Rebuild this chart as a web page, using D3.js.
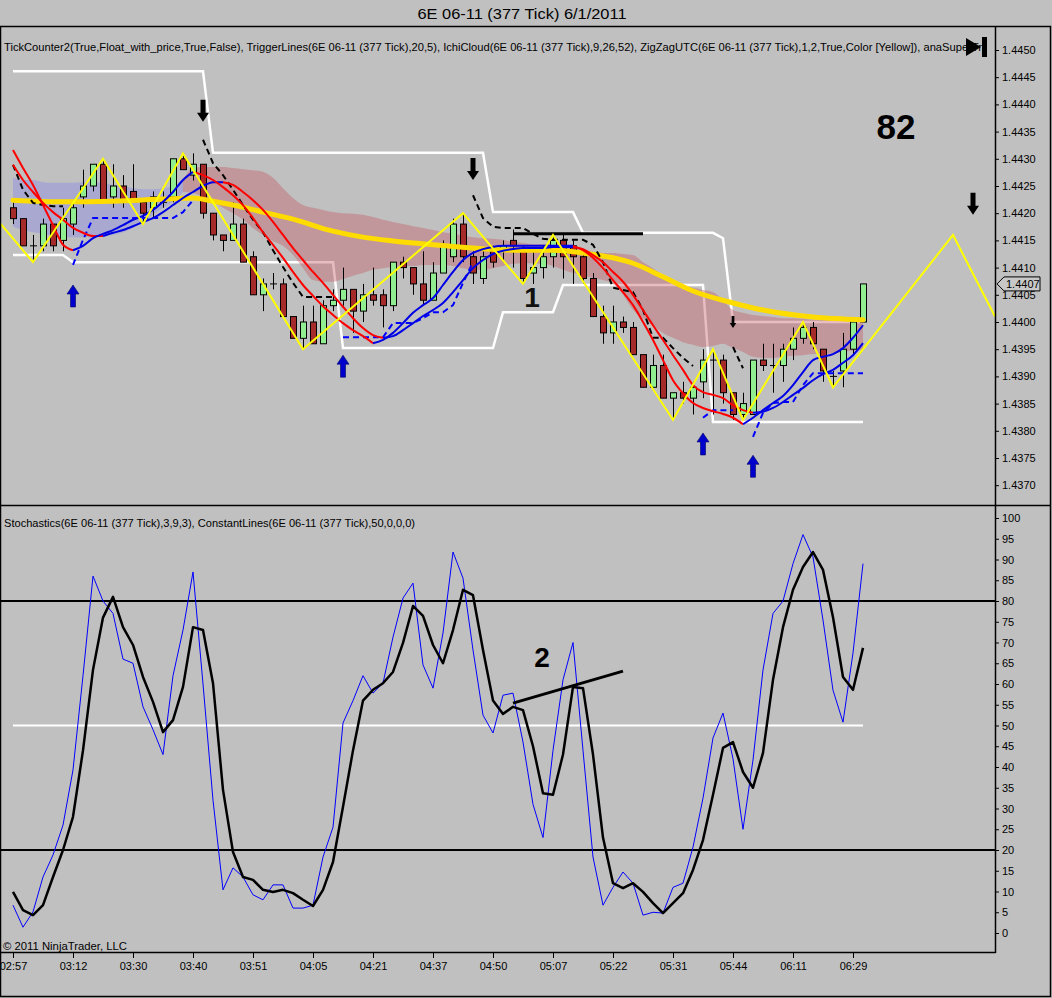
<!DOCTYPE html>
<html>
<head>
<meta charset="utf-8">
<script src="https://d3js.org/d3.v7.min.js"></script>
<style>
body{margin:0;background:#c0c0c0;}
text{font-family:"Liberation Sans",Arial,sans-serif;}
</style>
</head>
<body>
<script>
// ---- data ----
var timeLabels=["02:57","03:12","03:30","03:40","03:51","04:05","04:21","04:37","04:50","05:07","05:22","05:31","05:44","06:11","06:29"];
var labelBars=[0,6,12,18,24,30,36,42,48,54,60,66,72,78,84];
var priceTicks=[1.4370,1.4375,1.4380,1.4385,1.4390,1.4395,1.4400,1.4405,1.4410,1.4415,1.4420,1.4425,1.4430,1.4435,1.4440,1.4445,1.4450];
var stochTicks=[0,5,10,15,20,25,30,35,40,45,50,55,60,65,70,75,80,85,90,95,100];

var opens=[1.4421,1.4419,1.4414,1.4414,1.4418,1.4415,1.4418,1.4423,1.4425,1.4429,
1.4423,1.4425,1.4424,1.4422,1.4421,1.4422,1.4423,1.4430,1.4427,1.4429,
1.4420,1.4416,1.4415,1.4418,1.4412,1.4405,1.4407,1.4407,1.4401,1.4397,
1.4400,1.4396,1.4403,1.4404,1.4406,1.4402,1.4405,1.4405,1.4403,1.4411,
1.4410,1.4407,1.4404,1.4409,1.4412,1.4418,1.4412,1.4408,1.4413,1.4413,
1.4415,1.4413,1.4409,1.4410,1.4412,1.4415,1.4414,1.4412,1.4408,1.4401,
1.4398,1.4400,1.4399,1.4394,1.4388,1.4392,1.4386,1.4387,1.4386,1.4389,
1.4393,1.4393,1.4387,1.4383,1.4383,1.4393,1.4392,1.4392,1.4395,1.4397,
1.4399,1.4395,1.4390,1.4391,1.4395,1.4400];
var highs=[1.4422,1.4419,1.4416,1.4419,1.4418,1.4421,1.4422,1.4428,1.4429,1.4430,
1.4429,1.4427,1.4429,1.4422,1.4424,1.4424,1.4430,1.4431,1.4431,1.4429,
1.4420,1.4416,1.4422,1.4419,1.4413,1.4408,1.4409,1.4408,1.4401,1.4403,
1.4403,1.4404,1.4406,1.4410,1.4406,1.4407,1.4410,1.4406,1.4411,1.4412,
1.4410,1.4413,1.4411,1.4415,1.4419,1.4420,1.4413,1.4413,1.4414,1.4415,
1.4417,1.4414,1.4413,1.4414,1.4416,1.4416,1.4415,1.4413,1.4409,1.4403,
1.4403,1.4401,1.4400,1.4394,1.4394,1.4394,1.4387,1.4389,1.4389,1.4395,
1.4395,1.4394,1.4387,1.4387,1.4393,1.4396,1.4396,1.4396,1.4399,1.4400,
1.4400,1.4395,1.4391,1.4398,1.4400,1.4407];
var lows=[1.4418,1.4414,1.4411,1.4413,1.4413,1.4413,1.4416,1.4421,1.4424,1.4422,
1.4421,1.4421,1.4422,1.4418,1.4419,1.4421,1.4422,1.4428,1.4426,1.4419,
1.4415,1.4413,1.4415,1.4411,1.4405,1.4402,1.4406,1.4401,1.4397,1.4395,
1.4396,1.4396,1.4402,1.4403,1.4398,1.4400,1.4403,1.4399,1.4402,1.4408,
1.4405,1.4403,1.4404,1.4409,1.4411,1.4411,1.4407,1.4407,1.4410,1.4411,
1.4410,1.4407,1.4407,1.4408,1.4410,1.4408,1.4407,1.4407,1.4401,1.4396,
1.4396,1.4398,1.4394,1.4388,1.4388,1.4386,1.4382,1.4385,1.4383,1.4386,
1.4383,1.4385,1.4382,1.4382,1.4383,1.4391,1.4387,1.4389,1.4393,1.4396,
1.4395,1.4389,1.4388,1.4388,1.4394,1.4400];
var closes=[1.4419,1.4414,1.4414,1.4418,1.4414,1.4419,1.4421,1.4425,1.4429,1.4422,
1.4425,1.4422,1.4422,1.4420,1.4423,1.4422,1.4430,1.4428,1.4429,1.4420,
1.4416,1.4415,1.4418,1.4411,1.4405,1.4407,1.4407,1.4401,1.4397,1.4400,
1.4396,1.4403,1.4404,1.4406,1.4402,1.4405,1.4404,1.4403,1.4411,1.4410,
1.4407,1.4404,1.4409,1.4414,1.4418,1.4412,1.4409,1.4412,1.4411,1.4414,
1.4414,1.4408,1.4410,1.4412,1.4415,1.4412,1.4412,1.4408,1.4401,1.4398,
1.4400,1.4399,1.4394,1.4388,1.4392,1.4386,1.4387,1.4386,1.4388,1.4393,
1.4393,1.4387,1.4383,1.4385,1.4393,1.4392,1.4392,1.4395,1.4397,1.4399,
1.4396,1.4391,1.4390,1.4395,1.4400,1.4407];

// trigger lines (fast / slow)
var trigFast=[1.44316,1.44283,1.44252,1.44215,1.44178,1.44142,1.44132,1.44140,1.44154,1.44162,
1.44169,1.44178,1.44188,1.44195,1.44206,1.44221,1.44239,1.44261,1.44276,1.44270,
1.44261,1.44248,1.44233,1.44215,1.44191,1.44165,1.44142,1.44118,1.44092,1.44068,
1.44048,1.44029,1.44013,1.43998,1.43985,1.43974,1.43961,1.43967,1.43980,1.43998,
1.44017,1.44031,1.44044,1.44068,1.44092,1.44114,1.44127,1.44134,1.44138,1.44140,
1.44140,1.44140,1.44140,1.44140,1.44140,1.44140,1.44140,1.44132,1.44118,1.44099,
1.44077,1.44055,1.44031,1.44000,1.43967,1.43930,1.43893,1.43869,1.43851,1.43842,
1.43836,1.43831,1.43824,1.43812,1.43824,1.43838,1.43851,1.43864,1.43884,1.43908,
1.43930,1.43936,1.43941,1.43952,1.43971,1.43994];
var trigSlow=[1.44289,1.44261,1.44239,1.44219,1.44202,1.44188,1.44173,1.44164,1.44158,1.44158,
1.44164,1.44169,1.44176,1.44184,1.44191,1.44202,1.44215,1.44228,1.44239,1.44250,
1.44257,1.44257,1.44252,1.44239,1.44224,1.44206,1.44184,1.44160,1.44136,1.44114,
1.44092,1.44072,1.44050,1.44028,1.44007,1.43989,1.43976,1.43971,1.43974,1.43985,
1.43998,1.44011,1.44022,1.44035,1.44055,1.44077,1.44099,1.44114,1.44125,1.44131,
1.44134,1.44136,1.44136,1.44136,1.44138,1.44138,1.44138,1.44134,1.44123,1.44110,
1.44092,1.44074,1.44050,1.44022,1.43994,1.43967,1.43939,1.43912,1.43884,1.43871,
1.43866,1.43860,1.43847,1.43838,1.43833,1.43835,1.43842,1.43853,1.43866,1.43879,
1.43893,1.43904,1.43912,1.43925,1.43939,1.43961];

// ichimoku cloud edges
var cloudHi=[1.44265,1.44261,1.44261,1.44257,1.44256,1.44256,1.44256,1.44257,1.44257,1.44256,
1.44252,1.44250,1.44246,1.44244,1.44244,1.44246,1.44250,1.44261,1.44283,1.44285,
1.44285,1.44285,1.44283,1.44281,1.44279,1.44276,1.44265,1.44246,1.44228,1.44215,
1.44210,1.44206,1.44202,1.44200,1.44199,1.44197,1.44193,1.44188,1.44184,1.44180,
1.44176,1.44173,1.44169,1.44165,1.44162,1.44158,1.44156,1.44154,1.44153,1.44151,
1.44147,1.44145,1.44143,1.44143,1.44143,1.44142,1.44138,1.44132,1.44129,1.44127,
1.44127,1.44125,1.44123,1.44110,1.44099,1.44086,1.44077,1.44068,1.44063,1.44059,
1.44055,1.44040,1.44022,1.44017,1.44013,1.44011,1.44009,1.44007,1.44007,1.44006,
1.44004,1.44004,1.44004,1.44004,1.44004,1.44004];
var cloudLo=[1.44175,1.44169,1.44165,1.44162,1.44158,1.44156,1.44156,1.44156,1.44156,1.44158,
1.44160,1.44165,1.44173,1.44184,1.44197,1.44210,1.44221,1.44239,1.44237,1.44230,
1.44221,1.44210,1.44200,1.44188,1.44173,1.44160,1.44149,1.44140,1.44123,1.44099,
1.44077,1.44074,1.44074,1.44079,1.44085,1.44090,1.44096,1.44099,1.44101,1.44103,
1.44103,1.44105,1.44105,1.44105,1.44103,1.44099,1.44096,1.44096,1.44099,1.44103,
1.44107,1.44108,1.44108,1.44107,1.44103,1.44096,1.44090,1.44086,1.44081,1.44077,
1.44070,1.44050,1.44022,1.44007,1.43994,1.43980,1.43971,1.43963,1.43958,1.43954,
1.43956,1.43960,1.43952,1.43945,1.43936,1.43934,1.43934,1.43936,1.43938,1.43939,
1.43941,1.43941,1.43943,1.43945,1.43947,1.43949];
var cloudBullEnd=17;

// super trend bands
var upperBand=[1.44461,1.44461,1.44461,1.44461,1.44461,1.44461,1.44461,1.44461,1.44461,1.44461,
1.44461,1.44461,1.44461,1.44461,1.44461,1.44461,1.44461,1.44461,1.44461,1.44461,
1.44311,1.44311,1.44311,1.44311,1.44311,1.44311,1.44311,1.44311,1.44311,1.44311,
1.44311,1.44311,1.44311,1.44311,1.44311,1.44311,1.44311,1.44311,1.44311,1.44311,
1.44311,1.44311,1.44311,1.44311,1.44311,1.44311,1.44311,1.44311,1.44202,1.44202,
1.44202,1.44202,1.44202,1.44202,1.44202,1.44202,1.44202,1.44164,1.44164,1.44164,
1.44164,1.44164,1.44164,1.44164,1.44164,1.44164,1.44164,1.44164,1.44164,1.44164,
1.44164,1.44154,1.44000,1.44000,1.44000,1.44000,1.44000,1.44000,1.44000,1.44000,
1.44000,1.44000,1.44000,1.44000,1.44000,1.44000];
var lowerBand=[1.44123,1.44123,1.44123,1.44123,1.44123,1.44123,1.44110,1.44110,1.44110,1.44110,
1.44110,1.44110,1.44110,1.44110,1.44110,1.44110,1.44110,1.44110,1.44110,1.44110,
1.44110,1.44110,1.44110,1.44110,1.44110,1.44110,1.44110,1.44110,1.44110,1.44110,
1.44110,1.44110,1.44110,1.43952,1.43952,1.43952,1.43952,1.43952,1.43952,1.43952,
1.43952,1.43952,1.43952,1.43952,1.43952,1.43952,1.43952,1.43952,1.43952,1.44018,
1.44018,1.44018,1.44018,1.44018,1.44018,1.44068,1.44068,1.44068,1.44068,1.44068,
1.44068,1.44068,1.44068,1.44068,1.44068,1.44068,1.44068,1.44068,1.44068,1.44068,
1.43816,1.43816,1.43816,1.43816,1.43816,1.43816,1.43816,1.43816,1.43816,1.43816,
1.43816,1.43816,1.43816,1.43816,1.43816,1.43816];

// slow EMA (bar, price)
var emaPts=[[0,1.44224],[5,1.44221],[10,1.44222],[15,1.44226],[18,1.44228],[20,1.44222],[22,1.44215],
[25,1.44202],[28,1.44189],[32,1.44167],[35,1.44156],[38,1.44149],[42,1.44142],[46,1.44136],[50,1.44132],
[54,1.44132],[57,1.44127],[60,1.44118],[62,1.44108],[65,1.44083],[68,1.44057],[72,1.44035],[75,1.44022],
[80,1.44009],[85,1.44004]];

// dashed trailing lines (null = not drawn)
var trailDown=[1.44289,1.44243,1.44219,1.44215,1.44213,1.44213,null,null,null,null,
null,null,null,null,null,null,null,null,null,1.44335,
1.44292,1.44270,1.44243,1.44215,1.44188,1.44165,1.44132,1.44101,1.44072,1.44046,
1.44046,1.44046,1.44046,null,null,null,null,null,null,null,
null,null,null,null,null,null,1.44233,1.44191,1.44175,1.44173,
1.44173,1.44173,1.44162,1.44153,1.44151,1.44151,1.44151,1.44151,1.44142,1.44110,
1.44063,1.44059,1.44055,1.44022,1.43971,1.43971,1.43952,1.43934,1.43919,null,
null,null,1.43954,1.43915,null,null,null,null,null,null,
null,null,null,null,null,null];
var trailUp=[null,null,null,null,null,null,1.44105,1.44151,1.44191,1.44191,
1.44191,1.44191,1.44191,1.44191,1.44191,1.44191,1.44191,1.44202,1.44224,null,
null,null,null,null,null,null,null,null,null,null,
null,null,null,1.43972,1.43972,1.43972,1.43972,1.43972,1.43998,1.43998,
1.43998,1.44007,1.44018,1.44018,1.44031,1.44072,1.44110,null,null,null,
null,null,null,null,null,null,null,null,null,null,
null,null,null,null,null,null,null,null,null,1.43824,
1.43838,1.43838,1.43838,null,1.43789,1.43833,1.43851,1.43853,1.43853,1.43884,
1.43906,1.43906,1.43906,1.43906,1.43906,1.43906];

// zigzag pivots (bar, price)
var zigzag=[[-2,1.44197],[2,1.4411],[9,1.4430],[13,1.4418],[17,1.4431],[29,1.4395],[45,1.4420],[51,1.4407],
[54,1.4416],[66,1.4382],[70,1.4395],[73,1.4382],[79,1.4400],[82,1.4388],[94,1.4416],[98.2,1.4401]];

var downArrowBars=[19,46,72,96], downArrowPrices=[1.44368,1.44261,1.43989,1.44197], downArrowSize=[1,1,0.55,1];
var upArrowBars=[6,33,69,74], upArrowPrices=[1.44068,1.43939,1.43796,1.43755];
var levelLine=[50,63,1.44162];
var lastPrice=1.4407;

var stochK=[6.7,1.4,5.1,13.5,18.8,26,39.3,62,86,80,
77,66,65,54.5,49,43,62,73,87,60,
32,10.4,15.7,13.5,9.2,8,11.6,11.6,6,6,
6.7,18.3,25.5,50.6,56,62,57.8,60.2,71.3,80.7,
84.3,64.6,59,72.3,91.8,85.5,68.2,52.5,48.2,57.3,
57.8,46,31,23,44,61,70,44,18.3,6.7,
11,14.7,12,4.3,5,4.8,11,12,20.7,32.5,
47,53,42,25,41.7,63.4,77,80,89,96,
90.6,75.4,58.5,50.8,67.5,89];
var stochD=[9.9,5.5,4.3,6.7,13.5,20,28,44,63.4,76,
81,73.7,69.4,61.7,55.7,48.4,51.3,59.3,73.7,73,
60.2,34.5,19.5,13.5,12.8,10.4,9.9,10.4,9.6,8,
6.5,10.4,17.1,30.4,44,56,58.6,60.2,62.9,69.9,
78.8,76.4,69.4,65,73,82.7,81.4,68.2,56,52.8,
54.5,53.7,45,33.7,33.3,43,59.3,59,43,23,
12,10.8,12,9.9,7.2,4.8,7.2,9.6,15.2,22.4,
33.3,44.6,46,38.8,35,43.4,61,73.7,82.7,88.2,
91.8,87.5,76.1,61.7,58.6,68.7];
var stochTrend=[[50,55.4],[61,63.1]];

// ---- drawing ----
var svg=d3.select("body").append("svg").attr("width",1052).attr("height",998);
svg.append("rect").attr("width",1052).attr("height",998).attr("fill","#c0c0c0");

var x=d3.scaleLinear().domain([0,85]).range([13,863]);
var y=d3.scaleLinear().domain([1.4370,1.4450]).range([485.2,50]);
var ys=d3.scaleLinear().domain([0,100]).range([933,518]);

var defs=svg.append("defs");
defs.append("clipPath").attr("id","cp").append("rect").attr("x",1).attr("y",27).attr("width",994).attr("height",478);
defs.append("clipPath").attr("id","cs").append("rect").attr("x",1).attr("y",506).attr("width",994).attr("height",446);

var pp=svg.append("g").attr("clip-path","url(#cp)");

// bands
var bandLine=d3.line().x(function(d,i){return x(i);}).y(function(d){return y(d);});
pp.append("path").attr("d",bandLine(upperBand)).attr("fill","none").attr("stroke","#fff").attr("stroke-width",2.5);
pp.append("path").attr("d",bandLine(lowerBand)).attr("fill","none").attr("stroke","#fff").attr("stroke-width",2.5);

// cloud
var idx=d3.range(cloudHi.length);
var cArea=d3.area().curve(d3.curveMonotoneX).x(function(i){return x(i);}).y0(function(i){return y(cloudLo[i]);}).y1(function(i){return y(cloudHi[i]);});
pp.append("path").attr("d",cArea(idx.filter(function(i){return i<=cloudBullEnd;}))).attr("fill","#6a6aff").attr("fill-opacity",0.28);
pp.append("path").attr("d",cArea(idx.filter(function(i){return i>=cloudBullEnd;}))).attr("fill","#c45a64").attr("fill-opacity",0.4);

// candles
var bars=pp.append("g");
idx.forEach(function(i){
  var cx=Math.round(x(i))+0.5;
  bars.append("line").attr("x1",cx).attr("x2",cx).attr("y1",y(highs[i])).attr("y2",y(lows[i])).attr("stroke","#000").attr("stroke-width",1);
  var o=opens[i],c=closes[i];
  if(o===c){
    bars.append("line").attr("x1",cx-3.5).attr("x2",cx+3.5).attr("y1",y(o)).attr("y2",y(o)).attr("stroke","#000").attr("stroke-width",1);
  }else{
    bars.append("rect").attr("x",cx-3).attr("width",6)
      .attr("y",y(Math.max(o,c))).attr("height",Math.abs(y(o)-y(c)))
      .attr("fill",c>o?"#90ee90":"#a52a2a").attr("stroke","#000").attr("stroke-width",1);
  }
});

// level line
pp.append("line").attr("x1",x(levelLine[0])).attr("x2",x(levelLine[1])).attr("y1",y(levelLine[2])).attr("y2",y(levelLine[2])).attr("stroke","#000").attr("stroke-width",3);

// slow ema
var ptLine=d3.line().curve(d3.curveMonotoneX).x(function(d){return x(d[0]);}).y(function(d){return y(d[1]);});
pp.append("path").attr("d",ptLine(emaPts)).attr("fill","none").attr("stroke","#ffdc00").attr("stroke-width",5).attr("stroke-linecap","round");

// dashed trails
var gapLine=d3.line().defined(function(d){return d!=null;}).x(function(d,i){return x(i);}).y(function(d){return y(d);});
pp.append("path").attr("d",gapLine(trailDown)).attr("fill","none").attr("stroke","#000").attr("stroke-width",2).attr("stroke-dasharray","6,4");
pp.append("path").attr("d",gapLine(trailUp)).attr("fill","none").attr("stroke","#0000ff").attr("stroke-width",2).attr("stroke-dasharray","6,4");

// trigger lines: blue rising, red falling
function slopeRuns(vals){
  var runs=[],cur=null,dir=0;
  for(var i=1;i<vals.length;i++){
    var d=vals[i]>vals[i-1]?1:(vals[i]<vals[i-1]?-1:dir);
    if(d===0)d=-1;
    if(!cur||d!==dir){cur={dir:d,pts:[[i-1,vals[i-1]]]};runs.push(cur);dir=d;}
    cur.pts.push([i,vals[i]]);
  }
  return runs;
}
[trigSlow,trigFast].forEach(function(s){
  slopeRuns(s).forEach(function(r){
    pp.append("path").attr("d",ptLine(r.pts)).attr("fill","none")
      .attr("stroke",r.dir>0?"#0000e6":"#ff0000").attr("stroke-width",2);
  });
});

// zigzag
var zzLine=d3.line().x(function(d){return x(d[0]);}).y(function(d){return y(d[1]);});
pp.append("path").attr("d",zzLine(zigzag)).attr("fill","none").attr("stroke","#ffff00").attr("stroke-width",2);

// arrows
function arrowPath(cx,ty,dirv,s){
  var hw=6*s,sw=2.5*s,hh=9*s,L=22*s;
  return "M"+cx+","+ty+"L"+(cx-hw)+","+(ty-dirv*hh)+"L"+(cx-sw)+","+(ty-dirv*hh)+"L"+(cx-sw)+","+(ty-dirv*L)+
    "L"+(cx+sw)+","+(ty-dirv*L)+"L"+(cx+sw)+","+(ty-dirv*hh)+"L"+(cx+hw)+","+(ty-dirv*hh)+"Z";
}
downArrowBars.forEach(function(b,k){
  pp.append("path").attr("d",arrowPath(x(b),y(downArrowPrices[k]),1,downArrowSize[k])).attr("fill","#000");
});
upArrowBars.forEach(function(b,k){
  pp.append("path").attr("d",arrowPath(x(b),y(upArrowPrices[k]),-1,1)).attr("fill","#0000cc").attr("stroke","#000066").attr("stroke-width",0.6);
});

// texts in price panel
svg.append("text").attr("x",896).attr("y",139).attr("text-anchor","middle").attr("font-size",35).attr("font-weight","bold").text("82");
svg.append("text").attr("x",532).attr("y",307).attr("text-anchor","middle").attr("font-size",28).attr("font-weight","bold").attr("fill","#111").text("1");
svg.append("text").attr("x",4).attr("y",51).attr("font-size",11).attr("textLength",978).attr("lengthAdjust","spacingAndGlyphs")
  .text("TickCounter2(True,Float_with_price,True,False), TriggerLines(6E 06-11 (377 Tick),20,5), IchiCloud(6E 06-11 (377 Tick),9,26,52), ZigZagUTC(6E 06-11 (377 Tick),1,2,True,Color [Yellow]), anaSuperTr");
// end-of-chart icon
svg.append("path").attr("d","M966,38L966,56L981,47Z").attr("fill","#000");
svg.append("rect").attr("x",982).attr("y",37).attr("width",5).attr("height",20).attr("fill","#000");

// ---- stochastics panel ----
var sp=svg.append("g").attr("clip-path","url(#cs)");
[80,20].forEach(function(v){
  sp.append("line").attr("x1",1).attr("x2",995).attr("y1",ys(v)).attr("y2",ys(v)).attr("stroke","#000").attr("stroke-width",2);
});
sp.append("line").attr("x1",x(0)).attr("x2",x(85)).attr("y1",ys(50)).attr("y2",ys(50)).attr("stroke","#fff").attr("stroke-width",2);
var sLine=d3.line().x(function(d,i){return x(i);}).y(function(d){return ys(d);});
sp.append("path").attr("d",sLine(stochK)).attr("fill","none").attr("stroke","#0000ff").attr("stroke-width",1);
sp.append("path").attr("d",sLine(stochD)).attr("fill","none").attr("stroke","#000").attr("stroke-width",2.5).attr("stroke-linejoin","round");
sp.append("line").attr("x1",x(stochTrend[0][0])).attr("y1",ys(stochTrend[0][1])).attr("x2",x(stochTrend[1][0])).attr("y2",ys(stochTrend[1][1]))
  .attr("stroke","#000").attr("stroke-width",3);
svg.append("text").attr("x",542).attr("y",667).attr("text-anchor","middle").attr("font-size",28).attr("font-weight","bold").text("2");
svg.append("text").attr("x",4).attr("y",527).attr("font-size",11).attr("textLength",411).attr("lengthAdjust","spacingAndGlyphs")
  .text("Stochastics(6E 06-11 (377 Tick),3,9,3), ConstantLines(6E 06-11 (377 Tick),50,0,0,0)");
svg.append("text").attr("x",3).attr("y",950).attr("font-size",11).attr("textLength",124).attr("lengthAdjust","spacingAndGlyphs").text("\u00a9 2011 NinjaTrader, LLC");

// ---- axes ----
var pAxis=svg.append("g").attr("transform","translate(995,0)")
  .call(d3.axisRight(y).tickValues(priceTicks).tickFormat(d3.format(".4f")).tickSize(4).tickPadding(3));
var sAxis=svg.append("g").attr("transform","translate(995,0)")
  .call(d3.axisRight(ys).tickValues(stochTicks).tickSize(4).tickPadding(3));
var xAxis=svg.append("g").attr("transform","translate(0,952)")
  .call(d3.axisBottom(x).tickValues(labelBars).tickFormat(function(d,i){return timeLabels[i];}).tickSize(6).tickPadding(4));
[pAxis,sAxis,xAxis].forEach(function(a){
  a.select(".domain").remove();
  a.selectAll("text").attr("font-size",11).attr("font-family","Liberation Sans, Arial, sans-serif").attr("fill","#000");
  a.selectAll("line").attr("stroke","#000");
});

// last price marker
var ly=y(lastPrice);
svg.append("path").attr("d","M997,"+ly+"L1004,"+(ly-7)+"L1040,"+(ly-7)+"L1040,"+(ly+7)+"L1004,"+(ly+7)+"Z")
  .attr("fill","#c8c8c8").attr("stroke","#000").attr("stroke-width",1);
svg.append("text").attr("x",1006).attr("y",ly+4).attr("font-size",11).text(d3.format(".4f")(lastPrice));

// ---- frame ----
svg.append("text").attr("x",522).attr("y",19).attr("text-anchor","middle").attr("font-size",15).attr("textLength",209).attr("lengthAdjust","spacingAndGlyphs").text("6E 06-11 (377 Tick)  6/1/2011");
svg.append("rect").attr("x",0.5).attr("y",26.5).attr("width",1050).attr("height",970).attr("fill","none").attr("stroke","#000").attr("stroke-width",1.5);
svg.append("line").attr("x1",0).attr("x2",1051).attr("y1",505.5).attr("y2",505.5).attr("stroke","#000").attr("stroke-width",1.5);
svg.append("line").attr("x1",0).attr("x2",995.5).attr("y1",952.5).attr("y2",952.5).attr("stroke","#000").attr("stroke-width",1.5);
svg.append("line").attr("x1",995.5).attr("x2",995.5).attr("y1",26).attr("y2",953).attr("stroke","#000").attr("stroke-width",1.5);
</script>
</body>
</html>
